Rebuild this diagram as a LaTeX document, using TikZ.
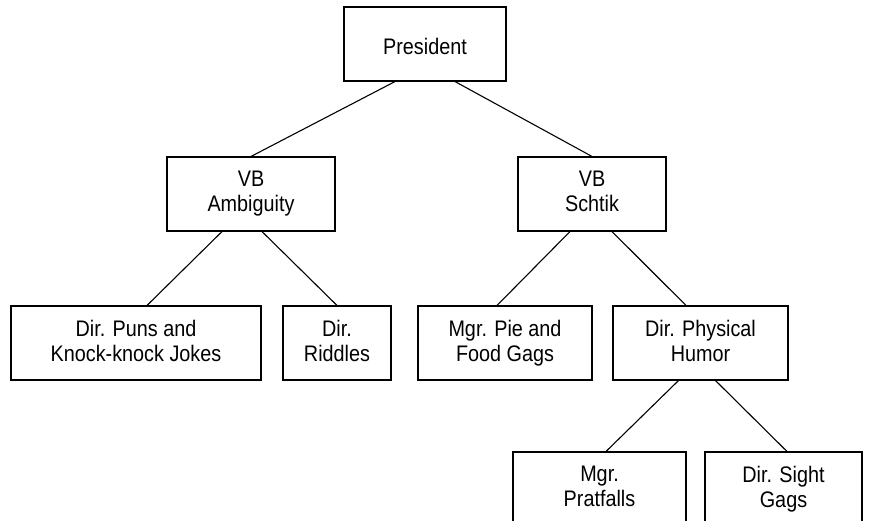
\documentclass[tikz,border=0pt]{standalone}
\usepackage{fontspec}
\setmainfont{Liberation Sans}[FakeStretch=0.88]
\usetikzlibrary{positioning}

\begin{document}
\begin{tikzpicture}[
        x=1pt, y=1pt,
        box/.style={rectangle, draw=black, line width=1.1pt,
                    minimum height=74pt, inner sep=0pt, align=center,
                    font=\fontsize{22.5}{25}\selectfont,
                    execute at begin node={\rule{0pt}{25pt}},
                    execute at end node={\rule[-5pt]{0pt}{0pt}}},
        link/.style={draw=black, line width=1.1pt},
    ]
    \useasboundingbox (0,0) rectangle (871,-520);

    % ====== top ======
    \node[box, minimum width=162pt] (pres) at (425,-44) {President};

    % ====== vice presidents ======
    \node[box, minimum width=168pt] (amb) at (251,-194) {VB\\Ambiguity};
    \node[box, minimum width=148pt] (schtik) at (592,-194) {VB\\Schtik};

    % ====== directors / managers ======
    \node[box, minimum width=250pt] (puns) at (136,-343) {Dir. Puns and\\Knock-knock Jokes};
    \node[box, minimum width=108pt] (riddles) at (337,-343) {Dir.\\Riddles};
    \node[box, minimum width=174pt] (pie) at (505,-343) {Mgr. Pie and\\Food Gags};
    \node[box, minimum width=175pt] (phys) at (700.5,-343) {Dir. Physical\\Humor};

    % ====== bottom row (cut by the page edge) ======
    \node[box, minimum width=173pt] (prat) at (599.5,-489) {Mgr.\\Pratfalls};
    \node[box, minimum width=157pt] (sight) at (783.5,-489) {Dir. Sight\\Gags};

    % ====== links ======
    \draw[link] ([xshift=-30pt]pres.south) -- (amb.north);
    \draw[link] ([xshift=30pt]pres.south) -- (schtik.north);
    \draw[link] ([xshift=-29pt]amb.south) -- ([xshift=11pt]puns.north);
    \draw[link] ([xshift=11pt]amb.south) -- (riddles.north);
    \draw[link] ([xshift=-22pt]schtik.south) -- ([xshift=-8pt]pie.north);
    \draw[link] ([xshift=20pt]schtik.south) -- ([xshift=-14.5pt]phys.north);
    \draw[link] ([xshift=-22pt]phys.south) -- ([xshift=6.5pt]prat.north);
    \draw[link] ([xshift=15pt]phys.south) -- ([xshift=3.5pt]sight.north);

\end{tikzpicture}
\end{document}
